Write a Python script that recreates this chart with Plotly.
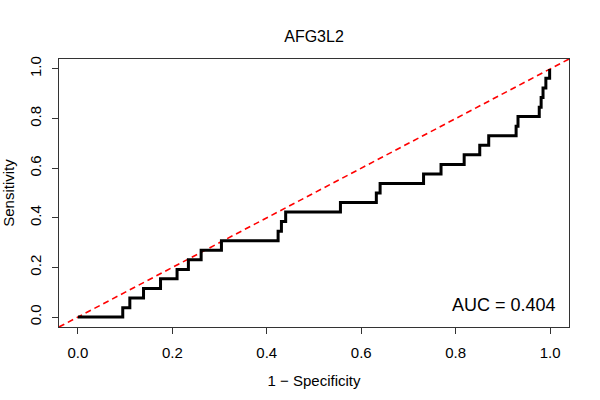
import plotly.graph_objects as go

title_text = "AFG3L2"
auc_label = "AUC = 0.404"
x_title = "1 \u2212 Specificity"
y_title = "Sensitivity"

fpr = [0.0, 0.095, 0.110, 0.139, 0.175, 0.210, 0.234, 0.261, 0.304, 0.424, 0.431,
       0.440, 0.556, 0.632, 0.640, 0.732, 0.769, 0.818, 0.851, 0.870, 0.928, 0.932,
       0.977, 0.981, 0.985, 0.991, 0.999]
tpr = [0.0, 0.038, 0.077, 0.115, 0.154, 0.192, 0.231, 0.269, 0.308, 0.346, 0.385,
       0.423, 0.462, 0.500, 0.538, 0.577, 0.615, 0.654, 0.692, 0.731, 0.769, 0.808,
       0.846, 0.885, 0.923, 0.962, 1.000]

diag = [-0.04, 1.04]
tick_vals = [0.0, 0.2, 0.4, 0.6, 0.8, 1.0]
tick_text = ["0.0", "0.2", "0.4", "0.6", "0.8", "1.0"]

FONT = "Liberation Sans, Arial, sans-serif"

fig = go.Figure()
fig.add_trace(go.Scatter(x=diag, y=diag, mode="lines",
                         line=dict(color="#ff0000", width=1.6, dash="6px,4px"),
                         hoverinfo="skip", showlegend=False))
fig.add_trace(go.Scatter(x=fpr, y=tpr, mode="lines", line_shape="hv",
                         line=dict(color="black", width=3), showlegend=False))

axis_common = dict(range=[-0.04, 1.04], tickvals=tick_vals, ticktext=tick_text,
                   showgrid=False, zeroline=False, showline=True, mirror=True,
                   linecolor="#333333", linewidth=1, ticks="outside", ticklen=6,
                   tickcolor="#333333", automargin=False,
                   tickfont=dict(size=15, color="black", family=FONT))

fig.update_xaxes(**axis_common,
                 title=dict(text=x_title, font=dict(size=15, color="black", family=FONT), standoff=15),
                 ticklabelstandoff=6)
fig.update_yaxes(**axis_common, tickangle=-90,
                 title=dict(text=y_title, font=dict(size=15, color="black", family=FONT), standoff=12),
                 ticklabelstandoff=5)

fig.add_annotation(x=1.017, y=0.048, xref="x", yref="y", text=auc_label, showarrow=False,
                   xanchor="right", yanchor="middle",
                   font=dict(size=18, color="black", family=FONT))

fig.update_layout(
    width=600, height=400,
    margin=dict(l=59, r=31, t=59, b=73),
    paper_bgcolor="white", plot_bgcolor="white",
    title=dict(text=title_text, x=0.5, xref="paper", y=0.91, yanchor="middle",
               font=dict(size=16, color="black", family=FONT)),
)

fig.write_html("out.html", config={"displayModeBar": False},
               post_script="document.body.style.margin='0px';")
